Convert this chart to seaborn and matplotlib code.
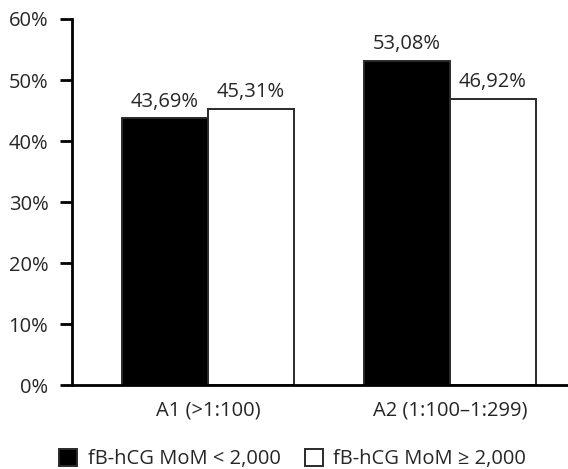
import matplotlib
matplotlib.use("Agg")
import matplotlib.pyplot as plt
import seaborn as sns
import pandas as pd

groups = ["A1 (>1:100)", "A2 (1:100–1:299)"]
series = ["fB-hCG MoM < 2,000", "fB-hCG MoM ≥ 2,000"]
low_values = [43.69, 53.08]
high_values = [45.31, 46.92]
y_ticks = [0, 10, 20, 30, 40, 50, 60]

df = pd.DataFrame({
    "group": groups * 2,
    "series": [series[0]] * 2 + [series[1]] * 2,
    "value": low_values + high_values,
})

sns.set_theme(style="white")
plt.rcParams["font.family"] = ["Open Sans", "DejaVu Sans"]
fs = 14.5
plt.rcParams["font.size"] = fs

fig = plt.figure(figsize=(5.68, 4.69), dpi=100)
ax = fig.add_axes([72 / 568, 1 - 385 / 469, 1 - 72 / 568, (385 - 19) / 469])

sns.barplot(data=df, x="group", y="value", hue="series", hue_order=series,
            palette=["black", "white"], saturation=1, width=0.71,
            edgecolor="#2a2a2a", linewidth=1.4, ax=ax)

for container in ax.containers:
    vals = container.datavalues
    ax.bar_label(container, labels=[f"{v:.2f}".replace(".", ",") + "%" for v in vals],
                 padding=5, fontsize=fs)

ax.set_xlim(-0.562, 1.488)
ax.set_ylim(0, 60)
ax.set_yticks(y_ticks)
ax.set_yticklabels([f"{t}%" for t in y_ticks])
ax.set_xlabel("")
ax.set_ylabel("")
for side in ["top", "right"]:
    ax.spines[side].set_visible(False)
for side in ["left", "bottom"]:
    ax.spines[side].set_color("black")
    ax.spines[side].set_linewidth(2)
ax.tick_params(axis="y", direction="out", length=9, width=2, color="black",
               left=True, pad=8, labelsize=fs)
ax.tick_params(axis="x", length=0, pad=11, labelsize=fs)

handles, labels = ax.get_legend_handles_labels()
ax.legend_.remove()
fig.legend(handles, labels, loc="center", bbox_to_anchor=(0.515, 0.021),
           ncol=2, frameon=False, fontsize=fs, handlelength=0.9,
           handleheight=0.9, handletextpad=0.5, columnspacing=1.2)

fig.savefig("out.png", dpi=100)
